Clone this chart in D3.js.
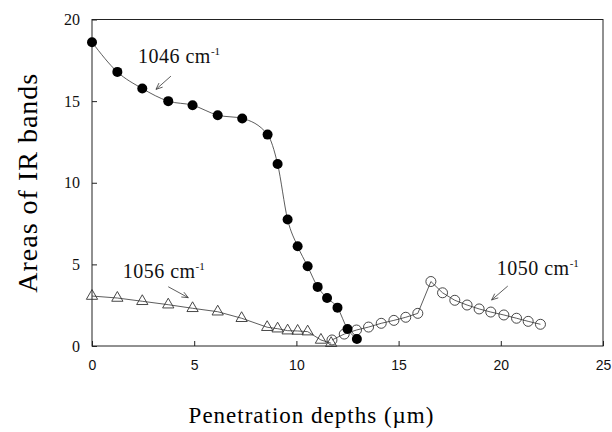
<!DOCTYPE html>
<html>
<head>
<meta charset="utf-8">
<script src="https://cdn.jsdelivr.net/npm/d3@7"></script>
<style>
  body { margin: 0; background: #fff; }
  svg { display: block; }
</style>
</head>
<body>
<svg id="chart" width="612" height="432"></svg>
<script>
// Band areas vs. penetration depth (three IR bands)
const band1046X = [0, 1.24, 2.46, 3.73, 4.92, 6.15, 7.35, 8.59, 9.08, 9.57, 10.06, 10.55, 11.04, 11.5, 12.01, 12.5, 12.96];
const band1046Y = [18.61, 16.79, 15.77, 15.0, 14.75, 14.14, 13.94, 12.95, 11.15, 7.75, 6.11, 4.88, 3.62, 2.94, 2.35, 1.04, 0.43];

const band1056X = [0, 1.24, 2.46, 3.73, 4.92, 6.15, 7.32, 8.57, 9.08, 9.57, 10.06, 10.55, 11.2, 11.7];
const band1056Y = [3.06, 2.94, 2.74, 2.53, 2.31, 2.10, 1.70, 1.15, 1.06, 0.94, 0.92, 0.88, 0.37, 0.17];

const band1050X = [11.74, 12.34, 12.94, 13.53, 14.15, 14.77, 15.35, 15.94, 16.58, 17.15, 17.75, 18.35, 18.94, 19.51, 20.15, 20.77, 21.34, 21.94];
const band1050Y = [0.37, 0.73, 0.98, 1.16, 1.39, 1.57, 1.76, 2.00, 3.95, 3.26, 2.80, 2.51, 2.27, 2.08, 1.90, 1.70, 1.51, 1.33];

const xTicks = [0, 5, 10, 15, 20, 25];
const yTicks = [0, 5, 10, 15, 20];

// label text, label anchor and arrow (tail -> head), in data units
const notes = [
    { text: '1046 cm', sup: '-1', x: 2.25, y: 17.33, from: [3.86, 16.53], to: [3.13, 15.72] },
    { text: '1056 cm', sup: '-1', x: 1.5, y: 4.18, from: [3.73, 3.63], to: [4.71, 2.96] },
    { text: '1050 cm', sup: '-1', x: 19.8, y: 4.35, from: [20.34, 3.67], to: [19.55, 2.82] }
];

const svg = d3.select('#chart');
const m = { left: 92, right: 603, top: 19.5, bottom: 346 };

const x = d3.scaleLinear().domain([0, 25]).range([m.left, m.right]);
const y = d3.scaleLinear().domain([0, 20]).range([m.bottom, m.top]);

const serif = '"Liberation Serif", "Times New Roman", serif';
const sans = '"Liberation Sans", Arial, sans-serif';

// frame
svg.append('rect')
    .attr('x', m.left).attr('y', m.top)
    .attr('width', m.right - m.left).attr('height', m.bottom - m.top)
    .attr('fill', 'none').attr('stroke', '#222').attr('stroke-width', 1);

// axes with inward ticks
const xAxis = svg.append('g')
    .attr('transform', `translate(0,${m.bottom})`)
    .call(d3.axisBottom(x).tickValues(xTicks).tickSizeInner(-5).tickSizeOuter(0).tickPadding(14));
xAxis.select('.domain').remove();
xAxis.selectAll('line').attr('stroke', '#222');
xAxis.selectAll('text').attr('font-family', sans).attr('font-size', 14).attr('fill', '#111');

const yAxis = svg.append('g')
    .attr('transform', `translate(${m.left},0)`)
    .call(d3.axisLeft(y).tickValues(yTicks).tickSizeInner(-5).tickSizeOuter(0).tickPadding(12));
yAxis.select('.domain').remove();
yAxis.selectAll('line').attr('stroke', '#222');
yAxis.selectAll('text').attr('font-family', serif).attr('font-size', 16).attr('fill', '#111');

// axis titles
svg.append('text')
    .attr('x', (m.left + m.right) / 2 - 36).attr('y', 423)
    .attr('text-anchor', 'middle')
    .attr('font-family', serif).attr('font-size', 23)
    .attr('letter-spacing', 1)
    .text('Penetration depths (\u00b5m)');

svg.append('text')
    .attr('transform', `translate(37,${(m.top + m.bottom) / 2}) rotate(-90)`)
    .attr('text-anchor', 'middle')
    .attr('font-family', serif).attr('font-size', 28)
    .attr('letter-spacing', 1)
    .text('Areas of IR bands');

// lines
const toPts = (xs, ys) => xs.map((v, i) => [v, ys[i]]);
const pts1046 = toPts(band1046X, band1046Y);
const pts1056 = toPts(band1056X, band1056Y);
const pts1050 = toPts(band1050X, band1050Y);

const linear = d3.line().x(d => x(d[0])).y(d => y(d[1]));
const smooth = d3.line().x(d => x(d[0])).y(d => y(d[1])).curve(d3.curveMonotoneX);

svg.append('path').attr('d', linear(pts1056))
    .attr('fill', 'none').attr('stroke', '#333').attr('stroke-width', 0.8);
svg.append('path').attr('d', linear(pts1050))
    .attr('fill', 'none').attr('stroke', '#333').attr('stroke-width', 0.8);
svg.append('path').attr('d', smooth(pts1046))
    .attr('fill', 'none').attr('stroke', '#333').attr('stroke-width', 0.8);

// markers
svg.append('g').selectAll('path').data(pts1056).join('path')
    .attr('transform', d => `translate(${x(d[0])},${y(d[1])})`)
    .attr('d', d3.symbol(d3.symbolTriangle, 55)())
    .attr('fill', 'none').attr('stroke', '#333').attr('stroke-width', 0.9);

svg.append('g').selectAll('circle').data(pts1050).join('circle')
    .attr('cx', d => x(d[0])).attr('cy', d => y(d[1])).attr('r', 5)
    .attr('fill', 'none').attr('stroke', '#333').attr('stroke-width', 0.9);

svg.append('g').selectAll('circle').data(pts1046).join('circle')
    .attr('cx', d => x(d[0])).attr('cy', d => y(d[1])).attr('r', 5)
    .attr('fill', '#000');

// annotations
notes.forEach(n => {
    const t = svg.append('text')
        .attr('x', x(n.x)).attr('y', y(n.y))
        .attr('font-family', serif).attr('font-size', 20)
        .attr('letter-spacing', 0.5)
        .attr('fill', '#111');
    t.append('tspan').text(n.text);
    t.append('tspan').attr('dy', -8).attr('font-size', 11).attr('letter-spacing', 0).text(n.sup);

    const x0 = x(n.from[0]), y0 = y(n.from[1]);
    const x1 = x(n.to[0]), y1 = y(n.to[1]);
    const ang = Math.atan2(y1 - y0, x1 - x0);
    const len = 7, spread = 0.4;
    const head = [ang + Math.PI - spread, ang + Math.PI + spread]
        .map(a => [x1 + len * Math.cos(a), y1 + len * Math.sin(a)]);
    svg.append('path')
        .attr('d', `M${x0},${y0}L${x1},${y1}M${head[0][0]},${head[0][1]}L${x1},${y1}L${head[1][0]},${head[1][1]}`)
        .attr('fill', 'none').attr('stroke', '#333').attr('stroke-width', 0.8);
});
</script>
</body>
</html>
